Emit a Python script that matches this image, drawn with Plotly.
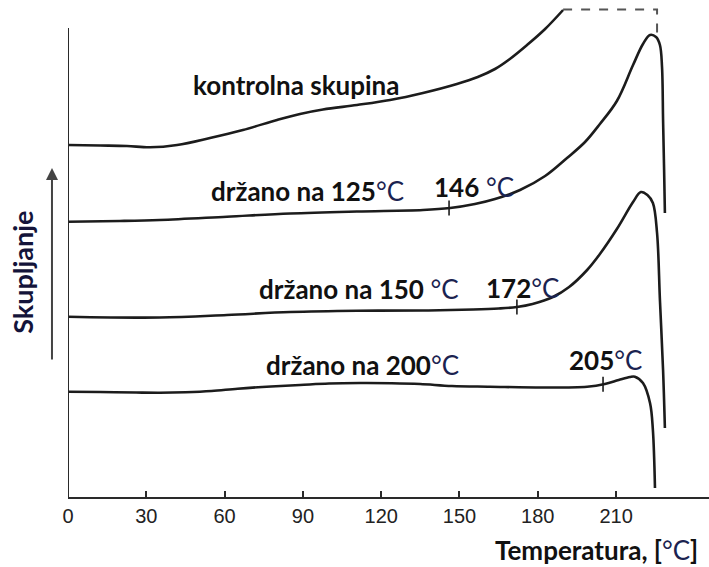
import numpy as np
import plotly.graph_objects as go

# ---- data (temperature in °C, shrinkage in arbitrary units) ----
ctrl_T = [0, 12.3, 22.6, 31.4, 41.8, 54.4, 67.0, 80.1, 88.9, 97.7, 110.7, 123.4, 136.0,
          149.0, 157.0, 163.6, 169.3, 175.9, 182.8, 189.7]
ctrl_S = [352, 351.5, 351, 349.7, 352, 359, 367, 377, 383, 387.5, 392, 397, 404,
          413, 420, 428, 438, 452, 468, 487]

off_T = [189.7, 225.7, 225.7]
off_S = [487.5, 487.5, 464]

h125_T = [0, 19.9, 35.2, 60.9, 85.1, 110.7, 136.0, 146.4, 155.9, 163.6, 173.2, 182.8, 191.2,
          198.1, 203.8, 210.3, 216.5, 220.3, 223.0, 225.3, 226.8, 227.6, 228.0, 228.4, 228.7]
h125_S = [275.3, 276, 277, 280.3, 283.5, 285.5, 287, 289, 293, 298, 307, 321, 339,
          355, 373, 396, 432, 453, 462, 460, 452, 430, 377, 327, 284]

h150_T = [0, 35.2, 60.9, 85.1, 110.7, 136.0, 155.2, 165.0, 172.0, 178.0, 185.8, 192.0, 198.9,
          203.8, 210.3, 216.5, 219.5, 222.0, 224.1, 225.7, 226.8, 228.0, 228.7]
h150_S = [180.3, 179.5, 182, 185, 186.3, 186.5, 187.5, 188.5, 190, 193, 200, 210, 227,
          243, 268, 295, 305, 302, 294, 264, 197, 127, 69]

h200_T = [0, 12.3, 26.1, 35.2, 45.0, 55.0, 65.0, 77.8, 88.9, 100.0, 111.9, 124.0, 134.9,
          147.1, 161.7, 182.0, 198.9, 205.7, 211.0, 215.3, 217.2, 220.3, 223.0, 224.1, 224.9]
h200_S = [105.3, 105, 104.5, 104.3, 104.8, 106, 108.3, 110.5, 112, 113.5, 114, 113.8, 113,
          111, 110.3, 109.5, 110.3, 113, 117, 120, 120.3, 114, 94, 67, 9]

onset_T = [146, 172, 205]
x_ticks = [0, 30, 60, 90, 120, 150, 180, 210]

curve_color = "#1c1c1c"
lab_font = "Lato, 'Noto Sans', sans-serif"
lab_size = 26
deg_color = "#1b2350"

fig = go.Figure()
for T, S in [(ctrl_T, ctrl_S), (h125_T, h125_S), (h150_T, h150_S), (h200_T, h200_S)]:
    fig.add_trace(go.Scatter(x=T, y=S, mode="lines",
                             line=dict(color=curve_color, width=2.6, shape="spline", smoothing=1.0),
                             hoverinfo="skip", showlegend=False))
fig.add_trace(go.Scatter(x=off_T, y=off_S, mode="lines",
                         line=dict(color="#555555", width=2, dash="dash"),
                         hoverinfo="skip", showlegend=False))

# onset tick marks on curves
for t, (T, S) in zip(onset_T, [(h125_T, h125_S), (h150_T, h150_S), (h200_T, h200_S)]):
    yv = float(np.interp(t, T, S))
    fig.add_trace(go.Scatter(x=[t, t], y=[yv - 7.5, yv + 7.5], mode="lines",
                             line=dict(color=curve_color, width=1.6),
                             hoverinfo="skip", showlegend=False))

# y axis line (shorter than plot area)
fig.add_shape(type="line", xref="x", yref="y", x0=0, x1=0, y0=0, y1=469,
              line=dict(color="#2a2a2a", width=2))

def lab(text, x, y):
    fig.add_annotation(x=x, y=y, xref="x", yref="y", text=text, showarrow=False,
                       xanchor="left", yanchor="middle",
                       font=dict(family=lab_font, size=lab_size, color="#111111"))

deg = f"<span style='color:{deg_color}'>°C</span>"
lab("<b>kontrolna skupina</b>", 47.0, 412)
lab(f"<b>držano na 125</b>{deg}", 54.0, 306)
lab(f"<b>146</b> {deg}", 139.5, 310)
lab(f"<b>držano na 150</b> {deg}", 72.5, 208)
lab(f"<b>172</b>{deg}", 159.5, 209)
lab(f"<b>držano na 200</b>{deg}", 75.0, 132)
lab(f"<b>205</b>{deg}", 191.0, 137)

# axis titles
fig.add_annotation(x=0.986, y=-0.1066, xref="paper", yref="paper", showarrow=False,
                   xanchor="right", yanchor="middle",
                   text=f"<b>Temperatura, [</b>{deg}<b>]</b>",
                   font=dict(family=lab_font, size=lab_size, color="#111111"))
fig.add_annotation(x=-0.072, y=225, xref="paper", yref="y", showarrow=False,
                   textangle=-90, xanchor="center", yanchor="middle",
                   text="<b>Skupljanje</b>",
                   font=dict(family=lab_font, size=27, color="#14143a"))
# arrow
fig.add_annotation(x=-0.025, y=329, xref="paper", yref="y", ax=0, ay=193,
                   showarrow=True, arrowhead=2, arrowsize=1.2, arrowwidth=2,
                   arrowcolor="#444444", text="")

fig.update_layout(
    width=709, height=567,
    margin=dict(l=68, r=0, t=0, b=70),
    paper_bgcolor="white", plot_bgcolor="white",
    xaxis=dict(range=[0, 245.6], tickvals=x_ticks, ticktext=[str(v) for v in x_ticks],
               showline=True, linecolor="#2a2a2a", linewidth=2,
               ticks="inside", ticklen=6, tickwidth=1.5, tickcolor="#2a2a2a",
               showgrid=False, zeroline=False, ticklabelstandoff=0,
               tickfont=dict(family="'Liberation Sans', Arial, sans-serif", size=20, color="#222222")),
    yaxis=dict(range=[0, 497], visible=False, showgrid=False, zeroline=False),
    showlegend=False,
)

fig.write_html("out.html", config={"displayModeBar": False},
               post_script="document.body.style.margin='0';document.body.style.padding='0';")
